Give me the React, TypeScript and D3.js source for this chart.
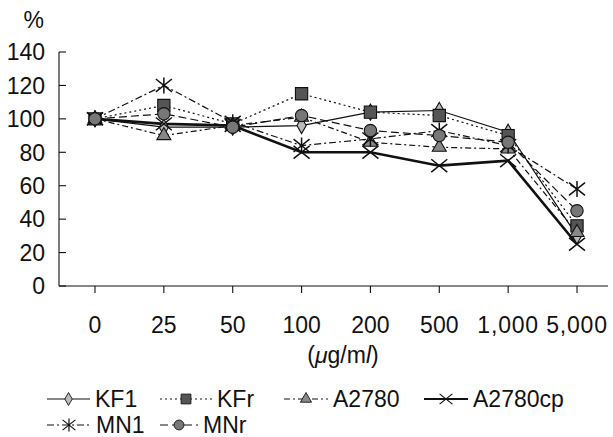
import React, { useEffect, useRef } from 'react';
import * as d3 from 'd3';

const categories = ['0', '25', '50', '100', '200', '500', '1,000', '5,000'];
const yTicks = [0, 20, 40, 60, 80, 100, 120, 140];

const kf1 = [100, 95, 95, 96, 104, 105, 92, 30];
const kfr = [100, 108, 97, 115, 104, 102, 90, 36];
const a2780 = [100, 90, 96, 101, 86, 83, 82, 32];
const a2780cp = [100, 97, 96, 80, 80, 72, 75, 25];
const mn1 = [100, 120, 98, 84, 88, 93, 84, 58];
const mnr = [100, 103, 95, 102, 93, 90, 86, 45];

const series = [
  { name: 'KF1', values: kf1, dash: null, width: 1.2, marker: 'diamond' },
  { name: 'KFr', values: kfr, dash: '2,3', width: 1.2, marker: 'square' },
  { name: 'A2780', values: a2780, dash: '6,3,2,3', width: 1.2, marker: 'triangle' },
  { name: 'A2780cp', values: a2780cp, dash: null, width: 2.6, marker: 'x' },
  { name: 'MN1', values: mn1, dash: '7,3,2,3', width: 1.2, marker: 'asterisk' },
  { name: 'MNr', values: mnr, dash: '8,4', width: 1.2, marker: 'circle' },
];

const FONT = '"Liberation Sans", Arial, Helvetica, sans-serif';

function drawMarker(g, type, x, y, scale = 1) {
  const m = g.append('g').attr('transform', `translate(${x},${y}) scale(${scale})`);
  if (type === 'x' || type === 'asterisk') {
    const r = 8;
    const path = d3.path();
    path.moveTo(-r, -r * 0.8); path.lineTo(r, r * 0.8);
    path.moveTo(-r, r * 0.8); path.lineTo(r, -r * 0.8);
    if (type === 'asterisk') {
      path.moveTo(0, -r); path.lineTo(0, r);
    }
    m.append('path').attr('d', path.toString())
      .attr('stroke', '#111').attr('stroke-width', 1.5).attr('fill', 'none');
    return;
  }
  const sym = {
    diamond: d3.symbolDiamond,
    square: d3.symbolSquare,
    triangle: d3.symbolTriangle,
    circle: d3.symbolCircle,
  }[type];
  const size = { diamond: 75, square: 150, triangle: 85, circle: 120 }[type];
  const fill = { diamond: '#bbb', square: '#555', triangle: '#888', circle: '#777' }[type];
  m.append('path').attr('d', d3.symbol(sym, size)())
    .attr('fill', fill).attr('stroke', '#111').attr('stroke-width', 1.1);
}

export default function App() {
  const svgRef = useRef(null);

  useEffect(() => {
    const svg = d3.select(svgRef.current);
    svg.selectAll('*').remove();

    const x = d3.scalePoint().domain(categories).range([95, 577]);
    const y = d3.scaleLinear().domain([0, 140]).range([286, 52]);
    const x0 = 59, x1 = 608;

    // axes
    const axis = svg.append('g').attr('stroke', '#111').attr('stroke-width', 1.1);
    axis.append('line').attr('x1', x0).attr('x2', x0).attr('y1', y(140)).attr('y2', y(0));
    axis.append('line').attr('x1', x0).attr('x2', x1).attr('y1', y(0)).attr('y2', y(0));
    yTicks.forEach(t => {
      axis.append('line').attr('x1', x0).attr('x2', x0 + 7).attr('y1', y(t)).attr('y2', y(t));
    });
    categories.forEach(c => {
      axis.append('line').attr('x1', x(c)).attr('x2', x(c)).attr('y1', y(0)).attr('y2', y(0) + 7);
    });

    const labels = svg.append('g').style('font-family', FONT).style('font-size', '23px').attr('fill', '#111');
    yTicks.forEach(t => {
      labels.append('text').attr('x', 45).attr('y', y(t)).attr('dy', '0.36em')
        .attr('text-anchor', 'end').text(t);
    });
    labels.append('text').attr('x', 44).attr('y', 20).attr('dy', '0.36em')
      .attr('text-anchor', 'end').text('%');
    categories.forEach(c => {
      labels.append('text').attr('x', x(c)).attr('y', 325).attr('dy', '0.36em')
        .attr('text-anchor', 'middle').style('letter-spacing', c.includes(',') ? '0.8px' : '0px').text(c);
    });
    const unit = labels.append('text').attr('x', 343).attr('y', 355).attr('dy', '0.36em')
      .attr('text-anchor', 'middle');
    unit.append('tspan').text('(');
    unit.append('tspan').style('font-style', 'italic').text('μ');
    unit.append('tspan').text('g/m');
    unit.append('tspan').style('font-style', 'italic').text('l');
    unit.append('tspan').text(')');

    // lines
    const line = d3.line().x((d, i) => x(categories[i])).y(d => y(d));
    const plot = svg.append('g');
    series.forEach(s => {
      plot.append('path').attr('d', line(s.values)).attr('fill', 'none')
        .attr('stroke', '#111').attr('stroke-width', s.width)
        .attr('stroke-dasharray', s.dash);
    });
    series.forEach(s => {
      s.values.forEach((v, i) => drawMarker(plot, s.marker, x(categories[i]), y(v)));
    });

    // legend: [symbol start, symbol end, text start, y]
    const legendPos = [
      [47, 90, 95, 399], [160, 212, 217, 399], [284, 328, 333, 399], [424, 468, 473, 399],
      [47, 91, 96, 425], [160, 198, 203, 425],
    ];
    const leg = svg.append('g');
    series.forEach((s, i) => {
      const [a, b, tx, ly] = legendPos[i];
      leg.append('line').attr('x1', a).attr('x2', b).attr('y1', ly).attr('y2', ly)
        .attr('stroke', '#111').attr('stroke-width', s.width > 2 ? 1.8 : 1.1)
        .attr('stroke-dasharray', s.dash);
      drawMarker(leg, s.marker, (a + b) / 2, ly, 0.8);
      leg.append('text').attr('x', tx).attr('y', ly).attr('dy', '0.36em')
        .style('font-family', FONT).style('font-size', '23px')
        .attr('fill', '#111').text(s.name);
    });
  }, []);

  return (
    <svg ref={svgRef} width={613} height={437}
      style={{ position: 'absolute', left: 0, top: 0, background: '#fff' }} />
  );
}
